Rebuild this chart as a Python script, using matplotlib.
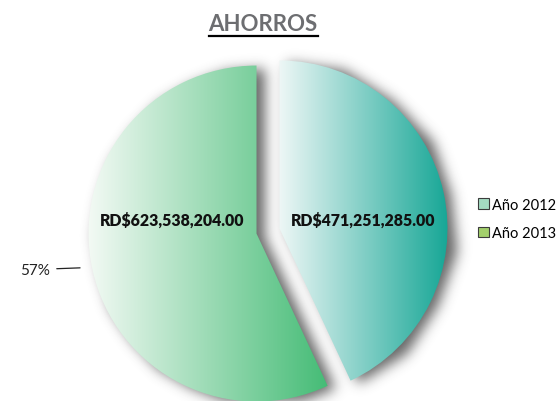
import numpy as np
import matplotlib
matplotlib.use("Agg")
import matplotlib.pyplot as plt
from matplotlib.colors import to_rgb
from matplotlib.patches import Patch

# data
years = ["Año 2012", "Año 2013"]
ahorros = [471251285.00, 623538204.00]
grad_left = ["#eef7f6", "#f4faf5"]
grad_right = ["#12a594", "#45bc76"]
legend_colors = ["#a4dcc2", "#a3d06c"]

plt.rcParams["font.family"] = ["Lato", "DejaVu Sans"]

W, H, PX = 560, 402, 168.0   # figure size in px, pixels per data unit
cx, cy = 268, 170             # pie centre (px from left / bottom)

fig = plt.figure(figsize=(W / 100, H / 100), dpi=100)
ax = fig.add_axes([0, 0, 1, 1])
xlim = (-cx / PX, (W - cx) / PX)
ylim = (-cy / PX, (H - cy) / PX)

wedges, _ = ax.pie(ahorros, startangle=90, counterclock=False,
                   explode=[0.07, 0.07], radius=1.0)

# soft drop shadow (offset right, blurred)
xs = xlim[0] + (np.arange(W) + 0.5) / PX
ys = ylim[0] + (np.arange(H) + 0.5) / PX
gx, gy = np.meshgrid(xs, ys)
pts = np.column_stack([gx.ravel() - 8 / PX, gy.ravel() + 3 / PX])
mask = np.zeros(len(pts))
for w in wedges:
    mask = np.maximum(mask, w.get_path().contains_points(pts))
mask = mask.reshape(H, W)
k = np.arange(-20, 21)
kern = np.exp(-k**2 / (2 * 6.5**2))
kern /= kern.sum()
blur = np.apply_along_axis(lambda r: np.convolve(r, kern, mode="same"), 1, mask)
blur = np.apply_along_axis(lambda c: np.convolve(c, kern, mode="same"), 0, blur)
shadow = np.zeros((H, W, 4))
shadow[..., :3] = 0.2
shadow[..., 3] = np.clip(blur, 0, 1) * 0.75
ax.imshow(shadow, extent=[xlim[0], xlim[1], ylim[0], ylim[1]], origin="lower",
          aspect="auto", zorder=1, interpolation="bilinear")

# gradient fills clipped to each wedge
for w, c0, c1 in zip(wedges, grad_left, grad_right):
    v = w.get_path().vertices
    x0, x1 = v[:, 0].min(), v[:, 0].max()
    y0, y1 = v[:, 1].min(), v[:, 1].max()
    t = np.linspace(0, 1, 256)[None, :, None]
    grad = (1 - t) * np.array(to_rgb(c0)) + t * np.array(to_rgb(c1))
    im = ax.imshow(grad, extent=[x0, x1, y0, y1], aspect="auto", zorder=2,
                   interpolation="bilinear")
    im.set_clip_path(w)
    w.set_facecolor("none")
    w.set_edgecolor("none")

# value labels
for w, val in zip(wedges, ahorros):
    ang = np.deg2rad((w.theta1 + w.theta2) / 2)
    side = np.sign(np.cos(ang))
    ax.text(w.center[0] + side * 0.5, 0.07, f"RD${val:,.2f}", ha="center",
            va="center", fontsize=11.4, fontweight="heavy", color="#111111", zorder=3)

# percentage with leader line for 2013
w13 = wedges[1]
pct = round(100 * ahorros[1] / sum(ahorros))
a = np.deg2rad(191)
tip = (w13.center[0] + 1.07 * np.cos(a), w13.center[1] + 1.07 * np.sin(a))
ax.annotate(f"{pct}%", xy=tip, xytext=(tip[0] - 0.18, tip[1] - 0.01),
            ha="right", va="center", fontsize=11, color="#222222",
            arrowprops=dict(arrowstyle="-", color="#222222", lw=0.9,
                            shrinkA=3, shrinkB=0))

ax.set_xlim(*xlim)
ax.set_ylim(*ylim)
ax.set_aspect("auto")
ax.axis("off")

# title, underlined
title = fig.text(0.47, 0.938, "AHORROS", ha="center", va="center",
                 fontsize=16, fontweight="bold", color="#6d6e71")
fig.canvas.draw()
bb = title.get_window_extent().transformed(fig.transFigure.inverted())
fig.add_artist(plt.Line2D([bb.x0, bb.x1], [bb.y0 - 0.004, bb.y0 - 0.004],
                          color="black", lw=1.6, transform=fig.transFigure))

handles = [Patch(facecolor=c, edgecolor="#3c3c3c", lw=0.8) for c in legend_colors]
fig.legend(handles, years, loc="center left", bbox_to_anchor=(0.843, 0.453),
           frameon=False, fontsize=10.5, handlelength=0.75, handleheight=0.75,
           handletextpad=0.25, labelspacing=1.0, borderaxespad=0)

fig.savefig("out.png", dpi=100)
